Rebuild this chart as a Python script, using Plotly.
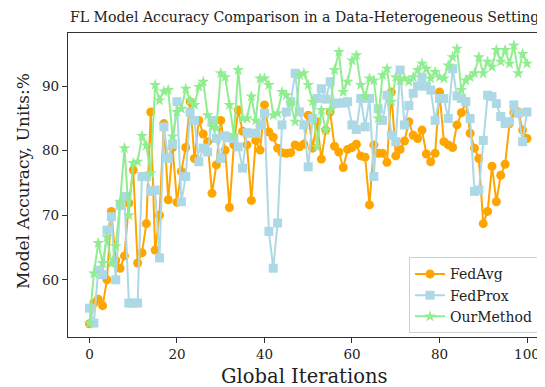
import plotly.graph_objects as go

iterations = list(range(101))

fedavg = [53.2, 56.4, 57.0, 56.0, 60.0, 70.6, 63.0, 61.8, 63.7, 71.9,
          77.0, 62.6, 64.2, 68.7, 86.0, 64.6, 70.0, 84.2, 72.4, 80.5,
          72.0, 76.8, 80.5, 87.6, 78.8, 84.7, 82.6, 81.4, 73.4, 77.8,
          84.7, 80.1, 71.2, 80.9, 86.3, 83.0, 80.9, 72.3, 81.6, 80.1,
          87.1, 82.9, 82.1, 80.4, 79.7, 79.6, 79.7, 80.9, 80.6, 81.0,
          85.5, 80.4, 84.5, 78.7, 83.2, 86.0, 80.7, 79.8, 77.4, 80.2,
          80.5, 81.0, 79.2, 79.0, 71.6, 80.9, 79.6, 79.6, 78.2, 89.1,
          79.2, 80.2, 81.5, 84.5, 82.4, 81.9, 83.2, 79.5, 78.3, 79.6,
          89.1, 81.4, 80.9, 80.5, 84.0, 85.9, 87.6, 82.7, 80.4, 78.8,
          68.7, 70.6, 77.6, 72.1, 76.2, 77.9, 84.2, 85.9, 86.0, 83.2,
          81.9]

fedprox = [55.6, 53.3, 61.5, 60.8, 67.7, 69.8, 60.0, 71.5, 72.9, 56.4,
           56.4, 56.4, 76.0, 76.0, 73.7, 73.9, 63.4, 83.7, 78.8, 81.0,
           87.6, 72.1, 76.0, 86.0, 84.7, 78.3, 80.4, 79.8, 84.7, 81.9,
           78.8, 82.3, 82.0, 81.9, 80.6, 77.3, 82.8, 82.7, 82.7, 84.0,
           85.8, 67.5, 61.8, 68.8, 84.0, 86.0, 87.6, 92.0, 86.0, 84.0,
           77.5, 85.0, 88.1, 89.6, 88.0, 90.7, 87.3, 87.4, 87.4, 87.6,
           84.0, 83.3, 88.1, 83.7, 88.1, 76.0, 86.5, 84.7, 88.6, 82.4,
           81.4, 92.5, 84.0, 87.0, 88.9, 90.0, 91.4, 90.0, 89.4, 84.7,
           88.1, 88.1, 85.0, 92.7, 88.5, 88.1, 87.6, 85.0, 73.7, 73.9,
           81.6, 88.6, 88.4, 87.3, 85.3, 84.2, 84.5, 87.1, 85.8, 81.4,
           86.0]

ourmethod = [53.3, 61.0, 65.7, 62.6, 66.6, 62.5, 65.2, 72.1, 80.4, 70.0,
             78.1, 78.3, 82.3, 80.8, 76.5, 90.2, 87.8, 89.2, 89.4, 82.2,
             86.0, 86.5, 89.6, 87.8, 87.1, 89.9, 90.7, 85.5, 83.7, 83.5,
             92.0, 91.4, 87.1, 82.4, 92.5, 85.0, 85.0, 88.4, 84.7, 91.2,
             91.2, 90.2, 85.5, 85.8, 89.1, 88.6, 87.3, 84.5, 91.7, 92.0,
             90.2, 87.6, 80.6, 86.3, 83.2, 86.3, 92.5, 95.3, 89.1, 90.7,
             94.0, 94.8, 90.2, 88.4, 91.2, 90.9, 85.0, 91.7, 92.7, 87.6,
             91.4, 90.9, 91.2, 90.7, 91.4, 92.5, 93.5, 92.7, 91.2, 92.2,
             91.4, 91.2, 93.2, 94.5, 95.8, 89.4, 90.9, 91.4, 92.0, 94.5,
             92.0, 93.8, 93.0, 95.6, 93.8, 95.6, 93.5, 96.3, 92.0, 95.0,
             93.5]

x_ticks = [0, 20, 40, 60, 80, 100]
y_ticks = [60, 70, 80, 90]

FONT = "DejaVu Serif"

fig = go.Figure()
fig.add_trace(go.Scatter(x=iterations, y=fedavg, mode="lines+markers", name="FedAvg",
                         line=dict(color="orange", width=2),
                         marker=dict(symbol="circle", size=9, color="orange")))
fig.add_trace(go.Scatter(x=iterations, y=fedprox, mode="lines+markers", name="FedProx",
                         line=dict(color="lightblue", width=2),
                         marker=dict(symbol="square", size=9, color="lightblue")))
fig.add_trace(go.Scatter(x=iterations, y=ourmethod, mode="lines+markers", name="OurMethod",
                         line=dict(color="lightgreen", width=2),
                         marker=dict(symbol="star", size=9, color="lightgreen")))

axis_common = dict(showgrid=False, zeroline=False, showline=True, mirror=True,
                   linecolor="#333333", linewidth=1.2, ticks="outside", ticklen=5,
                   tickwidth=1, tickcolor="#333333",
                   tickfont=dict(family=FONT, size=13.5, color="#222222"))

# The page body has an 8px margin, so the figure is drawn 8px smaller and offset.
fig.update_layout(
    width=537, height=379,
    margin=dict(l=60, r=4, t=25, b=50),
    paper_bgcolor="white", plot_bgcolor="white",
    font=dict(family=FONT, color="#222222"),
    xaxis=dict(range=[-4.91, 103.2], tickvals=x_ticks, **axis_common),
    yaxis=dict(range=[51.14, 98.24], tickvals=y_ticks, **axis_common),
    showlegend=True,
    legend=dict(x=0.9937, xanchor="right", y=0.012, yanchor="bottom",
                bgcolor="rgba(255,255,255,0.85)", bordercolor="#d0d0d0", borderwidth=1,
                font=dict(family=FONT, size=14, color="#222222")),
    annotations=[
        dict(text="FL Model Accuracy Comparison in a Data-Heterogeneous Setting",
             xref="paper", yref="paper", x=0.5, y=1, yanchor="middle", yshift=16,
             showarrow=False, font=dict(family=FONT, size=14.1, color="#222222")),
        dict(text="Global Iterations", xref="paper", yref="paper", x=0.5, y=0,
             yanchor="middle", yshift=-39, showarrow=False,
             font=dict(family=FONT, size=19.5, color="#222222")),
        dict(text="Model Accuracy, Units:%", xref="paper", yref="paper", x=0, y=0.5,
             xanchor="center", xshift=-45, yshift=4, textangle=-90, showarrow=False,
             font=dict(family=FONT, size=17, color="#222222")),
    ],
)

fig.write_html("out.html")
